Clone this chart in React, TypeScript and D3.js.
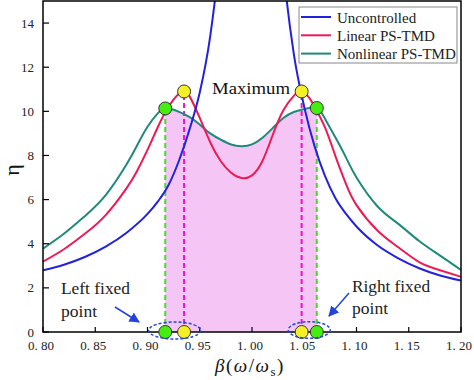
import React from "react";
import * as d3 from "d3";

// ---- data ----
const betaU = [0.80, 0.82, 0.84, 0.86, 0.88, 0.90, 0.91, 0.92, 0.93, 0.94, 0.95, 0.96, 0.97, 0.98, 0.99, 1.00, 1.01, 1.02, 1.03, 1.04, 1.05, 1.06, 1.07, 1.08, 1.09, 1.10, 1.12, 1.14, 1.16, 1.18, 1.20];
const etaU = [2.8, 3.05, 3.4, 3.87, 4.5, 5.35, 5.92, 6.65, 7.75, 9.15, 10.85, 13.4, 17.5, 24, 30, 33, 30, 23, 16.5, 12.6, 10.2, 8.4, 7.05, 6.05, 5.35, 4.78, 3.93, 3.34, 2.89, 2.56, 2.33];

const betaL = [0.80, 0.82, 0.84, 0.86, 0.88, 0.89, 0.90, 0.91, 0.92, 0.93, 0.935, 0.94, 0.95, 0.96, 0.97, 0.98, 0.99, 1.00, 1.01, 1.02, 1.03, 1.04, 1.0475, 1.055, 1.06, 1.07, 1.08, 1.09, 1.10, 1.12, 1.14, 1.16, 1.18, 1.20];
const etaL = [3.19, 3.75, 4.45, 5.3, 6.52, 7.3, 8.25, 9.3, 10.2, 10.8, 10.9, 10.7, 9.7, 8.6, 7.75, 7.22, 6.98, 7.1, 7.75, 8.95, 10.05, 10.7, 10.9, 10.6, 10.2, 9.25, 7.95, 6.7, 5.75, 4.6, 3.84, 3.17, 2.8, 2.5];

const betaN = [0.80, 0.82, 0.84, 0.86, 0.88, 0.89, 0.90, 0.91, 0.917, 0.925, 0.93, 0.94, 0.95, 0.96, 0.97, 0.98, 0.99, 1.00, 1.01, 1.02, 1.03, 1.04, 1.05, 1.062, 1.07, 1.08, 1.09, 1.10, 1.12, 1.14, 1.16, 1.18, 1.20];
const etaN = [3.78, 4.45, 5.25, 6.2, 7.6, 8.45, 9.3, 9.92, 10.13, 10.07, 9.98, 9.75, 9.4, 9.0, 8.72, 8.5, 8.42, 8.5, 8.8, 9.25, 9.7, 9.97, 10.1, 10.15, 9.65, 8.8, 7.9, 7.0, 5.7, 4.9, 4.12, 3.46, 2.81];

const fillRange = [0.917, 1.062];
const yellowBeta = [0.935, 1.0475];
const yellowEta = [10.9, 10.9];
const greenBeta = [0.917, 1.062];
const greenEta = [10.13, 10.15];

const xTicks = [0.8, 0.85, 0.9, 0.95, 1.0, 1.05, 1.1, 1.15, 1.2];
const yTicks = [0, 2, 4, 6, 8, 10, 12, 14];
const seriesNames = ["Uncontrolled", "Linear PS-TMD", "Nonlinear PS-TMD"];
const seriesColors = ["#2222dd", "#ee1a55", "#1f8a7c"];

const W = 474, H = 380;
const L = 43, R = 461, T = 1, B = 332;

export default function App() {
  const x = d3.scaleLinear().domain([0.8, 1.2]).range([L, R]);
  const y = d3.scaleLinear().domain([0, 15]).range([B, T]);
  const mkLine = (curve: any) =>
    d3
      .line<[number, number]>()
      .x((d) => x(d[0]))
      .y((d) => y(d[1]))
      .curve(curve);
  const lineSmooth = mkLine(d3.curveNatural);
  const lineMono = mkLine(d3.curveMonotoneX);
  const U = betaU.map((b, i) => [b, etaU[i]] as [number, number]);
  const Ld = betaL.map((b, i) => [b, etaL[i]] as [number, number]);
  const N = betaN.map((b, i) => [b, etaN[i]] as [number, number]);
  const fillData = N.filter((d) => d[0] >= fillRange[0] - 1e-9 && d[0] <= fillRange[1] + 1e-9);
  const area = d3
    .area<[number, number]>()
    .x((d) => x(d[0]))
    .y0(y(0))
    .y1((d) => y(d[1]))
    .curve(d3.curveNatural);
  const serif = "'Liberation Serif', 'Times New Roman', serif";
  const fmt = (v: number) => v.toFixed(2).replace(".", ". ");
  return (
    <svg width={W} height={H} style={{ position: "absolute", left: 0, top: 0, background: "#fff" }} fontFamily={serif}>
      <defs>
        <clipPath id="plot">
          <rect x={L} y={T} width={R - L} height={B - T} />
        </clipPath>
        <marker id="arr" viewBox="0 0 10 10" refX="9" refY="5" markerWidth="7" markerHeight="7" orient="auto">
          <path d="M0,0 L10,5 L0,10 z" fill="#2244dd" />
        </marker>
      </defs>
      <path d={area(fillData) || ""} fill="#f5c6f5" />
      {greenBeta.map((b, i) => (
        <line key={"gl" + i} x1={x(b)} x2={x(b)} y1={y(0)} y2={y(greenEta[i])} stroke="#44dd22" strokeWidth={2} strokeDasharray="5,3" />
      ))}
      {yellowBeta.map((b, i) => (
        <line key={"yl" + i} x1={x(b)} x2={x(b)} y1={y(0)} y2={y(yellowEta[i])} stroke="#ee11cc" strokeWidth={2} strokeDasharray="5,3" />
      ))}
      <g clipPath="url(#plot)" fill="none" strokeWidth={2}>
        <path d={lineSmooth(N) || ""} stroke={seriesColors[2]} />
        <path d={lineSmooth(Ld) || ""} stroke={seriesColors[1]} />
        <path d={lineMono(U) || ""} stroke={seriesColors[0]} />
      </g>
      {/* axes frame */}
      <rect x={L} y={T} width={R - L} height={B - T} fill="none" stroke="#000" strokeWidth={1.5} />
      {xTicks.map((t) => (
        <g key={"xt" + t}>
          <line x1={x(t)} x2={x(t)} y1={B} y2={B - 5} stroke="#000" strokeWidth={1.2} />
          <text x={x(t) - 2} y={350} textAnchor="middle" fontSize={13} fill="#222">{fmt(t)}</text>
        </g>
      ))}
      {yTicks.map((t) => (
        <g key={"yt" + t}>
          <line x1={L} x2={L + 6} y1={y(t)} y2={y(t)} stroke="#000" strokeWidth={1.2} />
          <text x={34} y={y(t) + 4.5} textAnchor="end" fontSize={13} fill="#222">{t}</text>
        </g>
      ))}
      {/* markers */}
      {greenBeta.map((b, i) => (
        <g key={"gm" + i}>
          <circle cx={x(b)} cy={y(greenEta[i])} r={6.5} fill="#44ee11" stroke="#333" strokeWidth={1} />
          <circle cx={x(b)} cy={y(0)} r={6.5} fill="#44ee11" stroke="#333" strokeWidth={1} />
        </g>
      ))}
      {yellowBeta.map((b, i) => (
        <g key={"ym" + i}>
          <circle cx={x(b)} cy={y(yellowEta[i])} r={6.5} fill="#f5f025" stroke="#333" strokeWidth={1} />
          <circle cx={x(b)} cy={y(0)} r={6.5} fill="#f5f025" stroke="#333" strokeWidth={1} />
        </g>
      ))}
      {/* dashed ellipses */}
      <ellipse cx={(x(greenBeta[0]) + x(yellowBeta[0])) / 2} cy={330.5} rx={26} ry={8.5} fill="none" stroke="#2244dd" strokeWidth={1.5} strokeDasharray="3,2" />
      <ellipse cx={(x(greenBeta[1]) + x(yellowBeta[1])) / 2} cy={330} rx={21} ry={8.3} fill="none" stroke="#2244dd" strokeWidth={1.5} strokeDasharray="3,2" />
      {/* arrows */}
      <line x1={115} y1={307} x2={139} y2={322} stroke="#2244dd" strokeWidth={1.5} markerEnd="url(#arr)" />
      <line x1={349} y1={293} x2={329} y2={316} stroke="#2244dd" strokeWidth={1.5} markerEnd="url(#arr)" />
      {/* annotations */}
      <text x={61} y={294} fontSize={16} textLength={69} lengthAdjust="spacingAndGlyphs" fill="#222">Left fixed</text>
      <text x={61} y={317} fontSize={16} textLength={36} lengthAdjust="spacingAndGlyphs" fill="#222">point</text>
      <text x={352} y={292} fontSize={16} textLength={78} lengthAdjust="spacingAndGlyphs" fill="#222">Right fixed</text>
      <text x={352} y={314} fontSize={16} textLength={36} lengthAdjust="spacingAndGlyphs" fill="#222">point</text>
      <text x={212} y={94} fontSize={16} textLength={78} lengthAdjust="spacingAndGlyphs" fill="#111">Maximum</text>
      {/* legend */}
      <rect x={299} y={7} width={158} height={56} fill="#fff" stroke="#888" strokeWidth={1} />
      {seriesNames.map((n, i) => (
        <g key={n}>
          <line x1={301} x2={331} y1={17 + i * 18.3} y2={17 + i * 18.3} stroke={seriesColors[i]} strokeWidth={2} />
          <text x={337} y={22.5 + i * 18.3} fontSize={15} fill="#222">{n}</text>
        </g>
      ))}
      {/* axis titles */}
      <text x={215} y={372} fontSize={19} fill="#111" letterSpacing={1.5}>
        <tspan fontStyle="italic">β</tspan>
        <tspan>(</tspan>
        <tspan fontStyle="italic">ω</tspan>
        <tspan>/</tspan>
        <tspan fontStyle="italic">ω</tspan>
        <tspan fontSize={13} dy={4}>s</tspan>
        <tspan dy={-4}>)</tspan>
      </text>
      <text transform="translate(19,170) rotate(-90)" textAnchor="middle" fontSize={22} fill="#111">η</text>
    </svg>
  );
}
